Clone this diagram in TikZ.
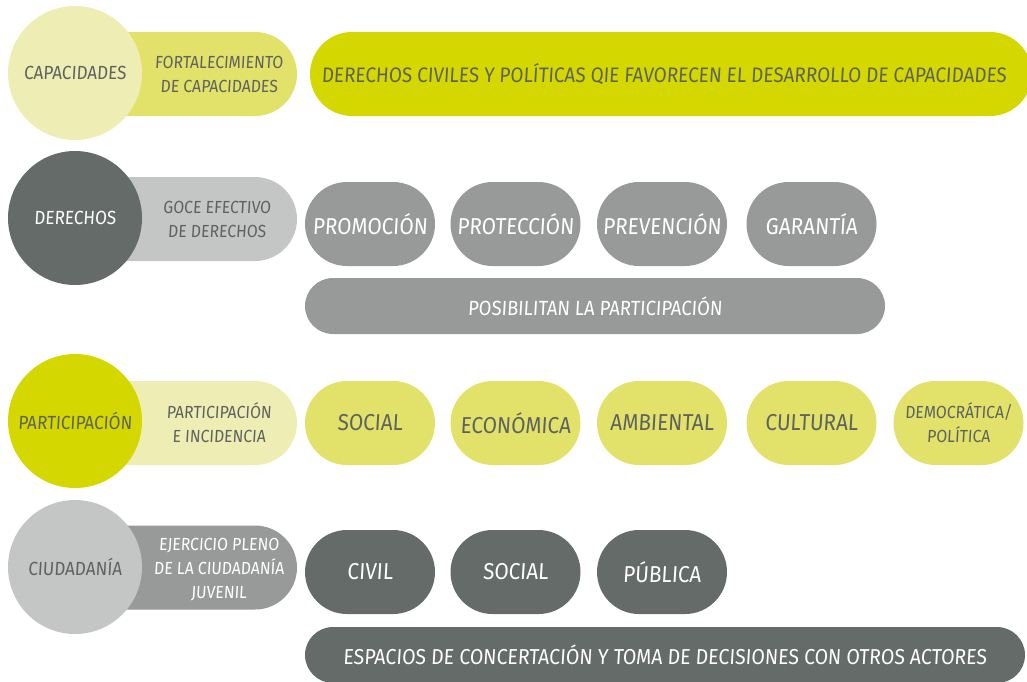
\documentclass[tikz,border=0pt]{standalone}
\usepackage{fontspec}
\newfontfamily\hand[FakeStretch=0.9,FakeSlant=0.06]{Fira Sans}
\definecolor{limeA}{HTML}{D4D800}
\definecolor{limeB}{HTML}{E2E26A}
\definecolor{limeC}{HTML}{EEEEB4}
\definecolor{greyA}{HTML}{656B68}
\definecolor{greyB}{HTML}{979A98}
\definecolor{greyC}{HTML}{C4C6C5}
\definecolor{txt}{HTML}{5E6360}
\begin{document}
\begin{tikzpicture}[x=1pt,y=-1pt,
  circ/.style={circle, minimum size=134pt, inner sep=0pt, align=center,
    font=\hand\fontsize{19}{22}\selectfont},
  tab/.style={rectangle, rounded corners=42pt, minimum width=222pt, minimum height=84pt, inner sep=0pt},
  tablabel/.style={align=center, inner sep=0pt, font=\hand\fontsize{17.5}{24}\selectfont},
  chip/.style={rectangle, rounded corners=42pt, minimum width=130pt, minimum height=84pt,
    inner sep=0pt, align=center, font=\hand\fontsize{23}{26}\selectfont},
  band/.style={rectangle, rounded corners=28pt, minimum height=56pt, inner sep=0pt,
    font=\hand\fontsize{20.5}{22}\selectfont},
  dk/.style={text=txt}, wt/.style={text=white}]
\useasboundingbox (0,0) rectangle (1027,681);
\begin{scope}
\clip (0,0) rectangle (1027,681);
% Row 1
\node[tab, fill=limeB] (t1) at (186,74) {};
\node[circ, fill=limeC, dk] (c1) at (75,73) {CAPACIDADES};
\node[tablabel, dk] (l1) at (219,74) {FORTALECIMIENTO\\DE CAPACIDADES};
\node[rectangle, rounded corners=42pt, minimum width=722pt, minimum height=84pt, inner sep=0pt,
  fill=limeA] (b1) at (671,74) {};
\node[dk, inner sep=0pt, font=\hand\fontsize{21}{24}\selectfont] (b1t) at (664,74)
  {DERECHOS CIVILES Y POLÍTICAS QIE FAVORECEN EL DESARROLLO DE CAPACIDADES};
% Row 2
\node[tab, fill=greyC] (t2) at (186,219) {};
\node[circ, fill=greyA, wt] (c2) at (75,218) {DERECHOS};
\node[tablabel, dk] (l2) at (217,219) {GOCE EFECTIVO\\DE DERECHOS};
\node[chip, fill=greyB, wt] (p21) at (370,224) {PROMOCIÓN};
\node[chip, fill=greyB, wt] (p22) at (515.5,224) {PROTECCIÓN};
\node[chip, fill=greyB, wt] (p23) at (662,224) {PREVENCIÓN};
\node[chip, fill=greyB, wt] (p24) at (811.5,224) {GARANTÍA};
\node[band, fill=greyB, wt, minimum width=580pt] (b2) at (595,306) {POSIBILITAN LA PARTICIPACIÓN};
% Row 3
\node[tab, fill=limeC] (t3) at (186,423) {};
\node[circ, fill=limeA, dk] (c3) at (75,421) {PARTICIPACIÓN};
\node[tablabel, dk] (l3) at (219,423) {PARTICIPACIÓN\\E INCIDENCIA};
\node[chip, fill=limeB, dk] (p31) at (370,423) {SOCIAL};
\node[chip, fill=limeB, dk] (p32) at (515.5,423) {ECONÓMICA};
\node[chip, fill=limeB, dk] (p33) at (662,423) {AMBIENTAL};
\node[chip, fill=limeB, dk] (p34) at (811.5,423) {CULTURAL};
\node[chip, fill=limeB, dk, font=\hand\fontsize{17.5}{24}\selectfont] (p35) at (958.5,423) {DEMOCRÁTICA/\\POLÍTICA};
% Row 4
\node[tab, fill=greyB] (t4) at (186,567.5) {};
\node[circ, fill=greyC, dk] (c4) at (75,567) {CIUDADANÍA};
\node[tablabel, wt] (l4) at (219,570) {EJERCICIO PLENO\\DE LA CIUDADANÍA\\JUVENIL};
\node[chip, fill=greyA, wt] (p41) at (370,572) {CIVIL};
\node[chip, fill=greyA, wt] (p42) at (515.5,572) {SOCIAL};
\node[chip, fill=greyA, wt] (p43) at (662,572) {PÚBLICA};
\node[band, fill=greyA, wt, minimum width=720pt, font=\hand\fontsize{21.6}{22}\selectfont] (b4) at (665,655) {ESPACIOS DE CONCERTACIÓN Y TOMA DE DECISIONES CON OTROS ACTORES};
\end{scope}
\end{tikzpicture}
\end{document}
